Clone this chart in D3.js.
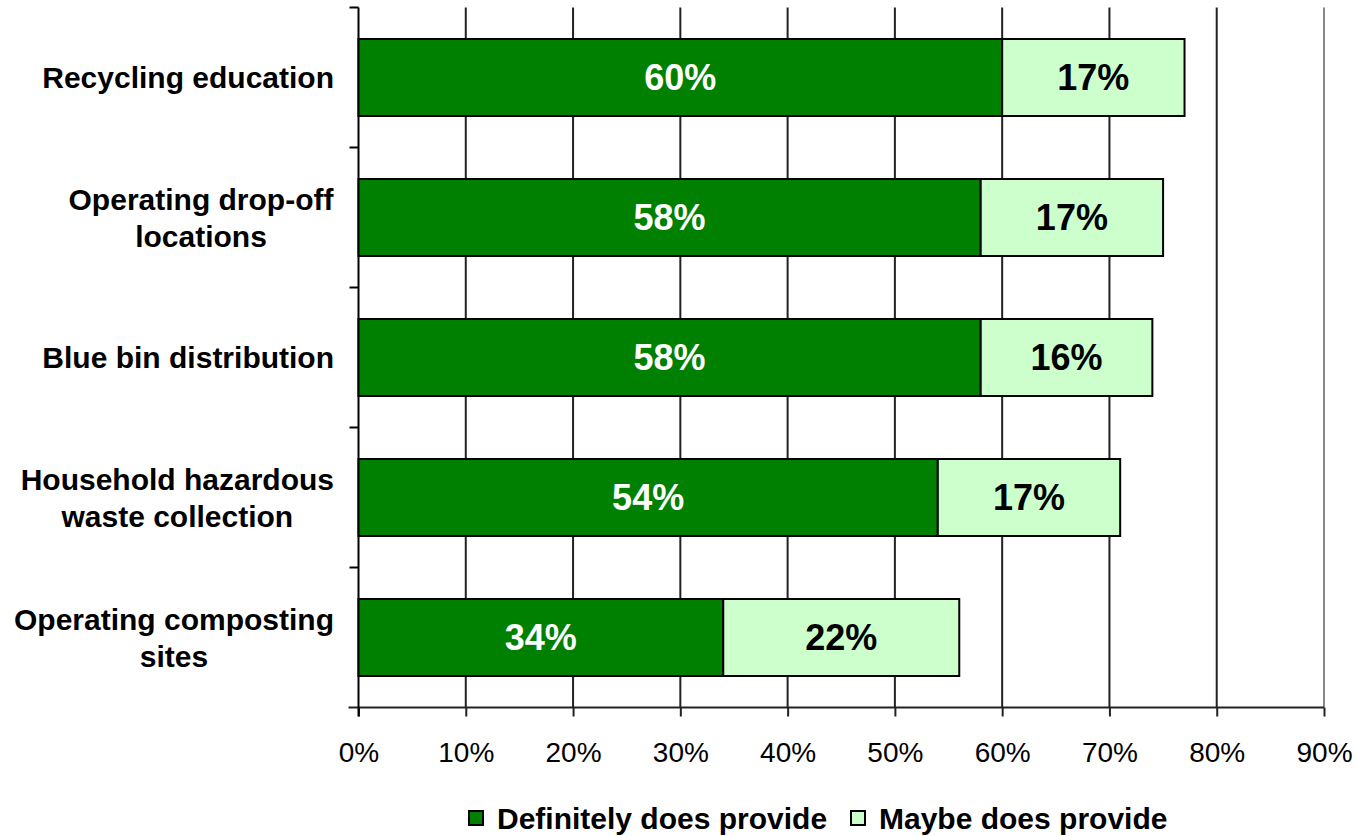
<!DOCTYPE html>
<html>
<head>
<meta charset="utf-8">
<script src="https://cdn.jsdelivr.net/npm/d3@7"></script>
<style>
  body { margin: 0; background: #fff; }
  svg { display: block; font-family: Arial, "Liberation Sans", sans-serif; }
</style>
</head>
<body>
<div id="chart"></div>
<script>
// data
const categories = [
  ['Recycling education'],
  ['Operating drop-off', 'locations'],
  ['Blue bin distribution'],
  ['Household hazardous', 'waste collection'],
  ['Operating composting', 'sites']
]
const definitely = [60, 58, 58, 54, 34]
const maybe = [17, 17, 16, 17, 22]
const seriesNames = ['Definitely does provide', 'Maybe does provide']
const xTicks = [0, 10, 20, 30, 40, 50, 60, 70, 80, 90]

const W = 1357, H = 836
const plotLeft = 358.5, plotRight = 1324, plotTop = 7.5, plotBottom = 707.5
const colors = ['#008000', '#CCFFCC']

const svg = d3.select('#chart').append('svg').attr('width', W).attr('height', H)

const x = d3.scaleLinear().domain([0, 90]).range([plotLeft, plotRight])
const y = d3.scaleBand()
  .domain(d3.range(categories.length))
  .range([plotTop, plotBottom])
  .paddingInner(0.45)
  .paddingOuter(0.225)

// gridlines
svg.append('g')
  .selectAll('line')
  .data(xTicks.filter(d => d > 0))
  .join('line')
  .attr('x1', d => x(d)).attr('x2', d => x(d))
  .attr('y1', plotTop).attr('y2', plotBottom)
  .attr('stroke', d => d === 90 ? '#888' : '#222')
  .attr('stroke-width', 2)

// bottom axis
const xAxis = svg.append('g')
  .attr('transform', `translate(0,${plotBottom})`)
  .call(d3.axisBottom(x).tickValues(xTicks).tickFormat(d => d + '%').tickSize(9).tickSizeOuter(0))
xAxis.select('.domain').attr('stroke', '#222').attr('stroke-width', 2)
  .attr('d', `M${plotLeft - 10},0H${plotRight}`)
xAxis.selectAll('.tick line').attr('stroke', '#222').attr('stroke-width', 2)
xAxis.selectAll('.tick text')
  .attr('dy', 0).attr('y', 54)
  .attr('font-size', 28).attr('fill', '#000')
  .attr('font-family', 'Arial, "Liberation Sans", sans-serif')

// left axis line + category ticks
const step = y.step()
svg.append('line')
  .attr('x1', plotLeft).attr('x2', plotLeft).attr('y1', plotTop).attr('y2', plotBottom + 9)
  .attr('stroke', '#000').attr('stroke-width', 2)
svg.append('g')
  .selectAll('line')
  .data(d3.range(categories.length))
  .join('line')
  .attr('x1', plotLeft - 9).attr('x2', plotLeft)
  .attr('y1', i => plotTop + step * i).attr('y2', i => plotTop + step * i)
  .attr('stroke', '#000').attr('stroke-width', 2)

// bars
const stacks = categories.map((c, i) => [
  { i, s: 0, x0: 0, x1: definitely[i], v: definitely[i] },
  { i, s: 1, x0: definitely[i], x1: definitely[i] + maybe[i], v: maybe[i] }
])
const rows = svg.append('g').selectAll('g').data(stacks).join('g')
rows.selectAll('rect')
  .data(d => d)
  .join('rect')
  .attr('x', d => x(d.x0))
  .attr('width', d => x(d.x1) - x(d.x0))
  .attr('y', d => y(d.i))
  .attr('height', y.bandwidth())
  .attr('fill', d => colors[d.s])
  .attr('stroke', '#000')
  .attr('stroke-width', 2)

rows.selectAll('text')
  .data(d => d)
  .join('text')
  .attr('x', d => (x(d.x0) + x(d.x1)) / 2)
  .attr('y', d => y(d.i) + y.bandwidth() / 2)
  .attr('dy', '0.36em')
  .attr('text-anchor', 'middle')
  .attr('font-size', 36)
  .attr('font-weight', 'bold')
  .attr('fill', d => d.s === 0 ? '#fff' : '#000')
  .text(d => d.v + '%')

// category labels
const catG = svg.append('g')
categories.forEach((lines, i) => {
  const cy = y(i) + y.bandwidth() / 2
  const lh = 37
  const t = catG.append('text')
    .attr('text-anchor', 'middle')
    .attr('font-size', 30)
    .attr('font-weight', 'bold')
    .attr('fill', '#000')
  lines.forEach((ln, j) => {
    t.append('tspan')
      .attr('x', 0)
      .attr('y', cy + (j - (lines.length - 1) / 2) * lh)
      .attr('dy', '0.36em')
      .text(ln)
  })
  // right align block, centre lines within it
  const bb = t.node().getBBox()
  t.attr('transform', `translate(${334 - bb.width / 2},0)`)
})

// legend
const legend = svg.append('g').attr('transform', 'translate(0,818)')
const legendX = [469, 851]
seriesNames.forEach((name, i) => {
  legend.append('rect')
    .attr('x', legendX[i]).attr('y', -7)
    .attr('width', 14).attr('height', 14)
    .attr('fill', colors[i]).attr('stroke', '#000').attr('stroke-width', 2)
  legend.append('text')
    .attr('x', legendX[i] + 28).attr('y', 0).attr('dy', '0.36em')
    .attr('font-size', 30).attr('font-weight', 'bold')
    .text(name)
})
</script>
</body>
</html>
